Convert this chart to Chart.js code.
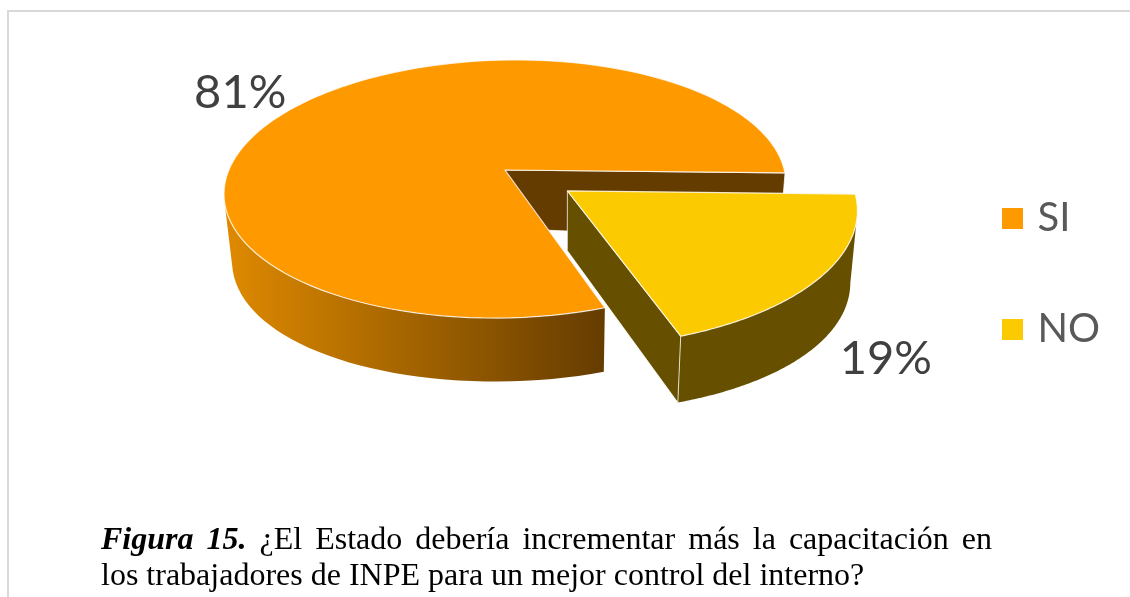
<!DOCTYPE html>
<html lang="es">
<head>
<meta charset="utf-8">
<title>Figura 15</title>
<script src="https://cdn.jsdelivr.net/npm/chart.js@4"></script>
<style>
    html, body { margin: 0; padding: 0; background: #fff; overflow: hidden; }
    #page { position: relative; width: 1130px; height: 597px; }
    #frame { position: absolute; left: 7px; top: 10px; right: 0; bottom: 0;
             border-top: 2px solid #d9d9d9; border-left: 2px solid #d9d9d9; }
    #pie { position: absolute; left: 0; top: 0; }
    #caption { position: absolute; left: 101px; top: 520px; width: 891px; margin: 0;
               font: 32px/36px "Liberation Serif", serif; color: #000; text-align: justify; }
</style>
</head>
<body>
<div id="page">
    <div id="frame"></div>
    <canvas id="pie" width="1130" height="597"></canvas>
    <p id="caption"><b><i>Figura 15.</i></b> ¿El Estado debería incrementar más la capacitación en los trabajadores de INPE para un mejor control del interno?</p>
</div>
<script>
// ── Data ─────────────────────────────────────────────────────
const categories = ['SI', 'NO'];
const values     = [81, 19];
const pctLabels  = ['81%', '19%'];
const topColors  = ['#FE9900', '#FCCA00'];

// ── Look of the 3D pie ───────────────────────────────────────
const explode     = [0, 0.277];             // slice pull-out, in pie radii
const wallColor   = ['#653C00', '#665000'];
const labelNudge  = [[-18, 5], [-8, 59]];
const view = { cx: 505, cy: 170, rx: 278, ry: 126.2, k: 0.147, tilt: -5,
               shrinkAt: 561, shrink: 0.976, depth: 58.5, depthFront: 5, depthSide: 8 };

// disc coords -> screen (top face)
function project(X, Y) {
    const w = 1 - view.k * Y;
    return { x: view.cx + view.rx * X / w,
             y: view.cy + (view.ry * Y + view.tilt * X) / w };
}

// same point on the lower face
function projectLow(X, Y) {
    const p = project(X, Y);
    return { x: view.shrinkAt + (p.x - view.shrinkAt) * view.shrink,
             y: p.y + view.depth + view.depthFront * Y + view.depthSide * X * X };
}

function arcSamples(arc, ox, oy) {
    const pts = [];
    const n = 120;
    for (let i = 0; i <= n; i++) {
        const a = arc.startAngle + (arc.endAngle - arc.startAngle) * i / n;
        pts.push({ X: ox + Math.cos(a), Y: oy + Math.sin(a) });
    }
    return pts;
}

function tracePath(ctx, pts) {
    ctx.beginPath();
    pts.forEach((p, i) => { i ? ctx.lineTo(p.x, p.y) : ctx.moveTo(p.x, p.y); });
    ctx.closePath();
}

// Outer wall: only the part of the rim that faces the viewer
function drawRimWall(ctx, samples, fill) {
    const front = samples.filter((s, i) => {
        const next = samples[Math.min(i + 1, samples.length - 1)];
        const prev = samples[Math.max(i - 1, 0)];
        return project(next.X, next.Y).x < project(prev.X, prev.Y).x;
    });
    const pts = front.map(s => project(s.X, s.Y))
        .concat(front.slice().reverse().map(s => projectLow(s.X, s.Y)));
    tracePath(ctx, pts);
    ctx.fillStyle = fill;
    ctx.fill();
}

// Flat cut face between the centre and one rim point
function drawCutWall(ctx, ox, oy, angle, fill) {
    const X = ox + Math.cos(angle), Y = oy + Math.sin(angle);
    tracePath(ctx, [project(ox, oy), project(X, Y), projectLow(X, Y), projectLow(ox, oy)]);
    ctx.fillStyle = fill;
    ctx.fill();
    ctx.strokeStyle = 'rgba(255,255,255,0.75)';
    ctx.lineWidth = 1;
    ctx.stroke();
}

// ── Plugin: replaces the flat arcs with the 3D view ──────────
const pie3d = {
    id: 'pie3d',
    beforeDatasetsDraw(chart) {
        const ctx = chart.ctx;
        const arcs = chart.getDatasetMeta(0).data;
        const geo = arcs.map((arc, i) => {
            const mid = (arc.startAngle + arc.endAngle) / 2;
            const ox = explode[i] * Math.cos(mid);
            const oy = explode[i] * Math.sin(mid);
            return { arc, mid, ox, oy, samples: arcSamples(arc, ox, oy) };
        });

        ctx.save();
        ctx.lineJoin = 'round';

        // SI: cut face behind the pulled slice, then the shaded rim
        const si = geo[0], no = geo[1];
        drawCutWall(ctx, si.ox, si.oy, si.arc.endAngle, wallColor[0]);
        const shade = ctx.createLinearGradient(228, 0, 605, 0);
        shade.addColorStop(0, '#DE8900');
        shade.addColorStop(1, wallColor[0]);
        drawRimWall(ctx, si.samples, shade);

        // NO: rim and the cut face looking at us
        drawRimWall(ctx, no.samples, wallColor[1]);
        drawCutWall(ctx, no.ox, no.oy, no.arc.endAngle, wallColor[1]);

        // Top faces
        geo.forEach((g, i) => {
            const pts = [project(g.ox, g.oy)].concat(g.samples.map(s => project(s.X, s.Y)));
            tracePath(ctx, pts);
            ctx.fillStyle = topColors[i];
            ctx.fill();
            ctx.strokeStyle = 'rgba(255,255,255,0.8)';
            ctx.lineWidth = 1.2;
            ctx.stroke();
        });

        // Value labels
        ctx.fillStyle = '#404040';
        ctx.font = '47px Lato';
        ctx.textAlign = 'center';
        ctx.textBaseline = 'middle';
        geo.forEach((g, i) => {
            const f = 1.25;
            const p = project(g.ox + f * Math.cos(g.mid), g.oy + f * Math.sin(g.mid));
            ctx.fillText(pctLabels[i], p.x + labelNudge[i][0], p.y + labelNudge[i][1]);
        });
        ctx.restore();
        return false;
    }
};

// ── Legend swatch: 21px square, closer to its text than default ──
function swatch(color) {
    const c = document.createElement('canvas');
    c.width = 21;
    c.height = 21;
    const g = c.getContext('2d');
    g.fillStyle = color;
    g.fillRect(0, 0, 21, 21);
    return c;
}

// ── Chart ────────────────────────────────────────────────────
new Chart(document.getElementById('pie'), {
    type: 'pie',
    data: {
        labels: categories,
        datasets: [{ data: values, backgroundColor: topColors, borderWidth: 0 }]
    },
    options: {
        responsive: false,
        animation: false,
        rotation: 162,
        layout: { padding: { right: 20, bottom: 49 } },
        plugins: {
            tooltip: { enabled: false },
            legend: {
                position: 'right',
                labels: {
                    usePointStyle: true,
                    boxWidth: 10,
                    boxHeight: 21,
                    padding: 71,
                    color: '#595959',
                    font: { family: 'Lato', size: 40 },
                    generateLabels(chart) {
                        return Chart.overrides.pie.plugins.legend.labels.generateLabels(chart)
                            .map((item, i) => Object.assign(item, { pointStyle: swatch(topColors[i]) }));
                    }
                }
            }
        }
    },
    plugins: [pie3d]
});
</script>
</body>
</html>
